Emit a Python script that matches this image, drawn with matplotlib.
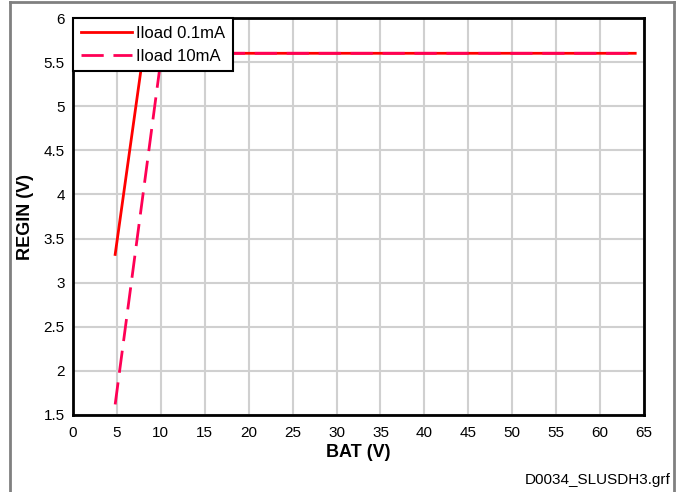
import matplotlib.pyplot as plt
from matplotlib.lines import Line2D

plt.rcParams['font.family'] = ['Liberation Sans', 'DejaVu Sans']

# data
bat_01 = [4.8, 8.0, 15, 25, 35, 45, 55, 64]
regin_01 = [3.32, 5.6, 5.6, 5.6, 5.6, 5.6, 5.6, 5.6]
bat_10 = [4.8, 10.1, 15, 25, 35, 45, 55, 64]
regin_10 = [1.62, 5.6, 5.6, 5.6, 5.6, 5.6, 5.6, 5.6]

fig = plt.figure(figsize=(6.78, 4.92), dpi=100)
ax = fig.add_axes([73 / 678, 77 / 492, 571 / 678, 397 / 492])

ax.plot(bat_01, regin_01, color='#FF0000', lw=2, zorder=3)
ax.plot(bat_10, regin_10, color='#FF0055', lw=2, dashes=(8, 3.5), zorder=4)

ax.set_xlim(0, 65)
ax.set_ylim(1.5, 6)
ax.set_xticks(range(0, 66, 5))
ax.set_yticks([1.5, 2, 2.5, 3, 3.5, 4, 4.5, 5, 5.5, 6])
ax.set_yticklabels(['1.5', '2', '2.5', '3', '3.5', '4', '4.5', '5', '5.5', '6'])
ax.grid(True, color='#d0d0d0', lw=1.5)
ax.set_axisbelow(True)
ax.tick_params(labelsize=11, length=0)
ax.tick_params(axis='x', pad=8)
ax.tick_params(axis='y', pad=6)
for s in ax.spines.values():
    s.set_linewidth(2)
    s.set_color('black')

ax.set_xlabel('BAT (V)', fontsize=13, fontweight='bold', labelpad=3)
ax.set_ylabel('REGIN (V)', fontsize=13, fontweight='bold', labelpad=7)

handles = [Line2D([], [], color='#FF0000', lw=2),
           Line2D([], [], color='#FF0055', lw=2, dashes=(8, 3.5))]
leg = ax.legend(handles, ['Iload 0.1mA', 'Iload 10mA'], loc='upper left',
                bbox_to_anchor=(0, 1), fontsize=12, frameon=True, fancybox=False,
                handlelength=3.1, borderaxespad=0, labelspacing=0.5,
                borderpad=0.45, handletextpad=0.25, framealpha=1)
leg.get_frame().set_edgecolor('black')
leg.get_frame().set_linewidth(1.5)
leg.set_zorder(5)

# surrounding frame of the figure
fig.add_artist(Line2D([10 / 678, 10 / 678], [0, 490 / 492], color='#808080', lw=2))
fig.add_artist(Line2D([10 / 678, 674 / 678], [490 / 492, 490 / 492], color='#808080', lw=2))
fig.add_artist(Line2D([674 / 678, 674 / 678], [0, 490 / 492], color='#808080', lw=2))

fig.text(671 / 678, 5 / 492, 'D0034_SLUSDH3.grf', ha='right', va='bottom', fontsize=11)

fig.savefig('out.png', dpi=100)
